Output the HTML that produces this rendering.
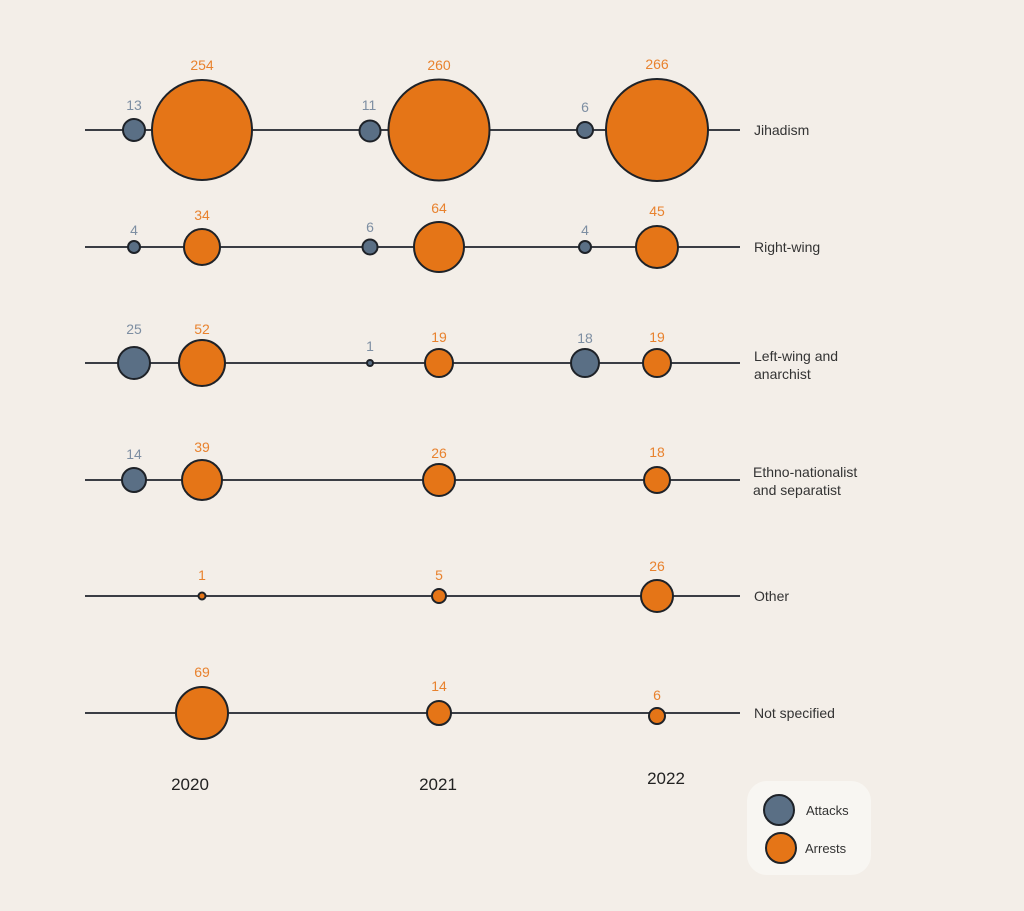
<!DOCTYPE html>
<html><head><meta charset="utf-8"><style>
html,body{margin:0;padding:0;background:#f3eee8;}
svg{display:block;font-family:"Liberation Sans",sans-serif;}
.a{fill:#5a6f85;stroke:#1e2228;stroke-width:2}
.r{fill:#e57517;stroke:#1e2228;stroke-width:2}
.la{fill:#7d8ea2;font-size:14px;text-anchor:middle}
.lr{fill:#e8822e;font-size:14px;text-anchor:middle}
.c{fill:#333;font-size:14px}
.y{fill:#222;font-size:17px;text-anchor:middle}
line{stroke:#3a3d44;stroke-width:2}
</style></head><body>
<svg width="1024" height="911" viewBox="0 0 1024 911">
<rect width="1024" height="911" fill="#f3eee8"/>
<line x1="85" y1="130" x2="740" y2="130"/>
<line x1="85" y1="247" x2="740" y2="247"/>
<line x1="85" y1="363" x2="740" y2="363"/>
<line x1="85" y1="480" x2="740" y2="480"/>
<line x1="85" y1="596" x2="740" y2="596"/>
<line x1="85" y1="713" x2="740" y2="713"/>
<!-- row1 -->
<circle class="a" cx="134" cy="130" r="11"/><text class="la" x="134" y="110">13</text>
<circle class="r" cx="202" cy="130" r="50"/><text class="lr" x="202" y="70">254</text>
<circle class="a" cx="370" cy="131" r="10.5"/><text class="la" x="369" y="110">11</text>
<circle class="r" cx="439" cy="130" r="50.5"/><text class="lr" x="439" y="70">260</text>
<circle class="a" cx="585" cy="130" r="8"/><text class="la" x="585" y="112">6</text>
<circle class="r" cx="657" cy="130" r="51"/><text class="lr" x="657" y="69">266</text>
<text class="c" x="754" y="135">Jihadism</text>
<!-- row2 -->
<circle class="a" cx="134" cy="247" r="6"/><text class="la" x="134" y="235">4</text>
<circle class="r" cx="202" cy="247" r="18"/><text class="lr" x="202" y="220">34</text>
<circle class="a" cx="370" cy="247" r="7.5"/><text class="la" x="370" y="232">6</text>
<circle class="r" cx="439" cy="247" r="25"/><text class="lr" x="439" y="213">64</text>
<circle class="a" cx="585" cy="247" r="6"/><text class="la" x="585" y="235">4</text>
<circle class="r" cx="657" cy="247" r="21"/><text class="lr" x="657" y="216">45</text>
<text class="c" x="754" y="252">Right-wing</text>
<!-- row3 -->
<circle class="a" cx="134" cy="363" r="16"/><text class="la" x="134" y="334">25</text>
<circle class="r" cx="202" cy="363" r="23"/><text class="lr" x="202" y="334">52</text>
<circle class="a" cx="370" cy="363" r="3"/><text class="la" x="370" y="351">1</text>
<circle class="r" cx="439" cy="363" r="14"/><text class="lr" x="439" y="342">19</text>
<circle class="a" cx="585" cy="363" r="14"/><text class="la" x="585" y="343">18</text>
<circle class="r" cx="657" cy="363" r="14"/><text class="lr" x="657" y="342">19</text>
<text class="c" x="754" y="361">Left-wing and</text><text class="c" x="754" y="379">anarchist</text>
<!-- row4 -->
<circle class="a" cx="134" cy="480" r="12"/><text class="la" x="134" y="459">14</text>
<circle class="r" cx="202" cy="480" r="20"/><text class="lr" x="202" y="452">39</text>
<circle class="r" cx="439" cy="480" r="16"/><text class="lr" x="439" y="458">26</text>
<circle class="r" cx="657" cy="480" r="13"/><text class="lr" x="657" y="457">18</text>
<text class="c" x="753" y="477">Ethno-nationalist</text><text class="c" x="753" y="495">and separatist</text>
<!-- row5 -->
<circle class="r" cx="202" cy="596" r="3.5"/><text class="lr" x="202" y="580">1</text>
<circle class="r" cx="439" cy="596" r="7"/><text class="lr" x="439" y="580">5</text>
<circle class="r" cx="657" cy="596" r="16"/><text class="lr" x="657" y="571">26</text>
<text class="c" x="754" y="601">Other</text>
<!-- row6 -->
<circle class="r" cx="202" cy="713" r="26"/><text class="lr" x="202" y="677">69</text>
<circle class="r" cx="439" cy="713" r="12"/><text class="lr" x="439" y="691">14</text>
<circle class="r" cx="657" cy="716" r="8"/><text class="lr" x="657" y="700">6</text>
<text class="c" x="754" y="718">Not specified</text>
<!-- years -->
<text class="y" x="190" y="790">2020</text>
<text class="y" x="438" y="790">2021</text>
<text class="y" x="666" y="784">2022</text>
<!-- legend -->
<rect x="747" y="781" width="124" height="94" rx="20" fill="#f8f6f2"/>
<circle class="a" cx="779" cy="810" r="15"/><text class="c" x="806" y="815" style="font-size:13px">Attacks</text>
<circle class="r" cx="781" cy="848" r="15"/><text class="c" x="805" y="853" style="font-size:13px">Arrests</text>
</svg>
</body></html>
